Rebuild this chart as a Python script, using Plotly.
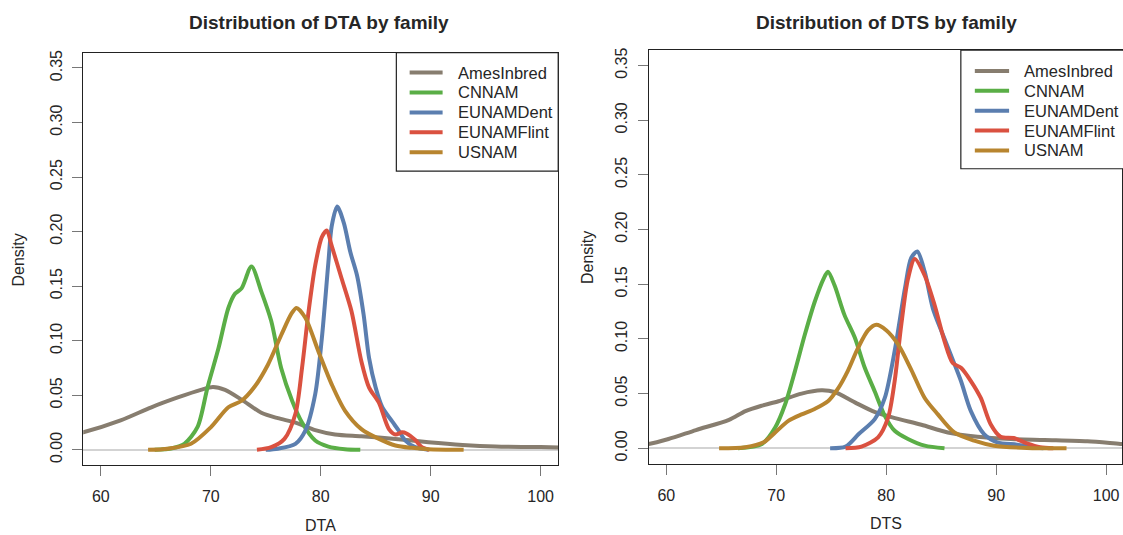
import plotly.graph_objects as go

families = ["AmesInbred", "CNNAM", "EUNAMDent", "EUNAMFlint", "USNAM"]
colors = ["#877D6F", "#5AAE46", "#5B7EAF", "#DA5140", "#B8852F"]

# ---- DTA densities ----
ames_dta_x = [55.0, 58.4, 61.8, 64.6, 67.0, 69.1, 70.2, 71.3, 72.8, 74.6, 76.1, 77.7, 79.5, 81.3, 83.7, 86.8, 89.8, 92.9, 95.9, 100.0, 104.0]
ames_dta_y = [0.008, 0.016, 0.027, 0.039, 0.048, 0.055, 0.0576, 0.055, 0.046, 0.034, 0.029, 0.025, 0.018, 0.014, 0.0124, 0.010, 0.007, 0.0045, 0.003, 0.0025, 0.0015]
cnnam_dta_x = [64.9, 66.5, 67.6, 68.8, 69.7, 70.7, 71.6, 72.2, 72.8, 73.7, 74.6, 75.5, 76.4, 77.4, 78.3, 79.5, 80.7, 82.2, 83.6]
cnnam_dta_y = [0.0, 0.0015, 0.0055, 0.021, 0.057, 0.093, 0.13, 0.143, 0.148, 0.168, 0.145, 0.118, 0.075, 0.045, 0.025, 0.0085, 0.003, 0.0006, 0.0]
dent_dta_x = [75.0, 76.1, 77.7, 78.6, 79.5, 80.1, 80.7, 81.0, 81.5, 82.1, 82.7, 83.3, 83.9, 84.4, 85.0, 85.6, 86.5, 87.1, 87.7, 88.6, 89.8]
dent_dta_y = [0.0, 0.001, 0.0055, 0.0176, 0.051, 0.102, 0.172, 0.205, 0.223, 0.208, 0.181, 0.16, 0.124, 0.084, 0.057, 0.039, 0.026, 0.0176, 0.0085, 0.0024, 0.0]
flint_dta_x = [74.2, 75.5, 76.7, 77.7, 78.3, 78.9, 79.5, 80.1, 80.55, 81.0, 81.9, 82.8, 83.7, 84.4, 85.3, 86.2, 86.8, 87.4, 87.8, 88.6, 89.2, 89.9]
flint_dta_y = [0.0, 0.0024, 0.01, 0.033, 0.075, 0.127, 0.169, 0.195, 0.201, 0.187, 0.157, 0.127, 0.081, 0.057, 0.043, 0.019, 0.014, 0.016, 0.015, 0.009, 0.0024, 0.0]
usnam_dta_x = [64.3, 66.1, 68.2, 70.0, 71.6, 72.8, 74.0, 75.2, 76.4, 77.35, 77.8, 78.6, 79.8, 81.0, 82.2, 83.7, 85.3, 86.8, 88.3, 89.8, 93.0]
usnam_dta_y = [0.0, 0.001, 0.0055, 0.0206, 0.039, 0.045, 0.058, 0.078, 0.105, 0.125, 0.13, 0.121, 0.09, 0.06, 0.036, 0.019, 0.01, 0.004, 0.0018, 0.0006, 0.0]

# ---- DTS densities ----
ames_dts_x = [56.0, 58.4, 60.2, 62.7, 65.7, 67.2, 68.7, 70.2, 72.3, 74.1, 75.3, 77.15, 79.0, 80.8, 83.2, 85.6, 88.3, 91.35, 94.4, 98.3, 101.3, 104.0]
ames_dts_y = [0.002, 0.004, 0.0085, 0.0167, 0.026, 0.034, 0.039, 0.043, 0.05, 0.053, 0.0515, 0.042, 0.033, 0.0276, 0.0215, 0.0145, 0.0106, 0.0085, 0.0076, 0.0064, 0.004, 0.002]
cnnam_dts_x = [66.5, 68.7, 69.9, 70.8, 71.7, 72.6, 73.5, 74.3, 74.7, 75.3, 76.2, 77.15, 78.05, 78.96, 79.87, 80.77, 81.98, 83.5, 85.3]
cnnam_dts_y = [0.0, 0.004, 0.019, 0.04, 0.0706, 0.104, 0.134, 0.155, 0.1615, 0.149, 0.122, 0.101, 0.0736, 0.052, 0.0297, 0.016, 0.0085, 0.0024, 0.0]
dent_dts_x = [74.9, 76.3, 77.5, 78.96, 79.87, 80.77, 81.7, 82.27, 82.83, 83.5, 84.24, 85.15, 86.05, 86.8, 87.7, 88.9, 90.1, 91.9, 93.4, 94.3]
dent_dts_y = [0.0, 0.0015, 0.013, 0.0267, 0.046, 0.089, 0.146, 0.174, 0.18, 0.1615, 0.128, 0.104, 0.081, 0.0615, 0.034, 0.013, 0.0055, 0.0033, 0.001, 0.0]
flint_dts_x = [76.3, 77.75, 79.26, 80.17, 80.77, 81.37, 81.98, 82.6, 83.5, 84.4, 85.3, 86.05, 86.8, 87.7, 88.6, 89.5, 90.4, 91.6, 92.8, 94.0, 95.2]
flint_dts_y = [0.0, 0.0015, 0.01, 0.028, 0.0615, 0.113, 0.155, 0.173, 0.158, 0.131, 0.098, 0.078, 0.0736, 0.0615, 0.046, 0.022, 0.0106, 0.0094, 0.0045, 0.001, 0.0]
usnam_dts_x = [64.8, 67.2, 68.85, 69.9, 71.1, 72.3, 73.5, 74.7, 75.64, 76.5, 77.45, 78.36, 79.1, 80.0, 81.08, 82.27, 83.5, 84.7, 86.2, 88.0, 89.8, 92.8, 96.4]
usnam_dts_y = [0.0, 0.001, 0.0055, 0.0145, 0.025, 0.031, 0.036, 0.043, 0.055, 0.0706, 0.092, 0.108, 0.113, 0.108, 0.095, 0.072, 0.046, 0.031, 0.0145, 0.007, 0.0024, 0.0003, 0.0]

x_ticks = [60, 70, 80, 90, 100]
y_ticks = [0.00, 0.05, 0.10, 0.15, 0.20, 0.25, 0.30, 0.35]
y_ticktext = ["0.00", "0.05", "0.10", "0.15", "0.20", "0.25", "0.30", "0.35"]

dta = [(ames_dta_x, ames_dta_y), (cnnam_dta_x, cnnam_dta_y), (dent_dta_x, dent_dta_y),
       (flint_dta_x, flint_dta_y), (usnam_dta_x, usnam_dta_y)]
dts = [(ames_dts_x, ames_dts_y), (cnnam_dts_x, cnnam_dts_y), (dent_dts_x, dent_dts_y),
       (flint_dts_x, flint_dts_y), (usnam_dts_x, usnam_dts_y)]

FONT = "Liberation Sans, Arial, Helvetica, sans-serif"
TXT = "#262626"

# page geometry (body margin is reset to 0 in the page, so the figure fills the window)
W, H = 1123, 535


def fx(px):
    return px / W


def fy(py):
    return (H - py) / H


fig = go.Figure()
for (xs, ys), name, col in zip(dta, families, colors):
    fig.add_trace(go.Scatter(x=xs, y=ys, mode="lines", name=name,
                             line=dict(color=col, width=4, shape="spline", smoothing=0.8),
                             xaxis="x", yaxis="y", showlegend=False))
for (xs, ys), name, col in zip(dts, families, colors):
    fig.add_trace(go.Scatter(x=xs, y=ys, mode="lines", name=name,
                             line=dict(color=col, width=4, shape="spline", smoothing=0.8),
                             xaxis="x2", yaxis="y2", showlegend=False))

axis_common = dict(showline=True, mirror=True, linecolor="#222222", linewidth=1.3,
                   ticks="outside", ticklen=10, tickwidth=1.3, tickcolor="#777777",
                   showgrid=False, tickfont=dict(family=FONT, size=16, color=TXT))

xr = [58.4, 101.6]
yr = [-0.014, 0.364]
px_per_unit = (558.7 - 83.3) / (xr[1] - xr[0])

fig.update_layout(
    width=W, height=H,
    margin=dict(l=0, r=0, t=0, b=0),
    paper_bgcolor="white", plot_bgcolor="white",
    font=dict(family=FONT, color=TXT),
    showlegend=False,
    xaxis=dict(domain=[fx(83.3), fx(558.7)], range=xr, tickvals=x_ticks, anchor="y",
               ticklabelstandoff=7, **axis_common),
    yaxis=dict(domain=[fy(464.7), fy(50)], range=yr, tickvals=y_ticks, ticktext=y_ticktext,
               tickangle=-90, anchor="x", zeroline=True, zerolinecolor="#D3D3D3", zerolinewidth=2,
               ticklabelstandoff=4, **axis_common),
    xaxis2=dict(domain=[fx(649.3), 1.0], range=[xr[0], xr[0] + (W - 649.3) / px_per_unit],
                tickvals=x_ticks, anchor="y2", ticklabelstandoff=7, **axis_common),
    yaxis2=dict(domain=[fy(463.2), fy(47.5)], range=yr, tickvals=y_ticks, ticktext=y_ticktext,
                tickangle=-90, anchor="x2", zeroline=True, zerolinecolor="#D3D3D3", zerolinewidth=2,
                ticklabelstandoff=4, **axis_common),
)

annotations = [
    dict(text="<b>Distribution of DTA by family</b>", x=fx(319), y=fy(20)),
    dict(text="<b>Distribution of DTS by family</b>", x=fx(887), y=fy(20)),
]
for a in annotations:
    a.update(xref="paper", yref="paper", showarrow=False, xanchor="center", yanchor="middle",
             font=dict(size=19, color=TXT, family=FONT))
axis_titles = [
    dict(text="DTA", x=fx(321), y=fy(525)),
    dict(text="DTS", x=fx(887), y=fy(523)),
    dict(text="Density", x=fx(19), y=fy(258), textangle=-90),
    dict(text="Density", x=fx(588), y=fy(256), textangle=-90),
]
for a in axis_titles:
    a.update(xref="paper", yref="paper", showarrow=False, xanchor="center", yanchor="middle",
             font=dict(size=16, color=TXT, family=FONT))
annotations += axis_titles

# legends (one per panel), drawn in page pixels
shapes = []
legend_boxes = [
    dict(x0=396.7, x1=558.7, y0=50, y1=169, row0=70, line_x0=410, line_x1=443, text_x=456),
    dict(x0=961.7, x1=1124.7, y0=47.5, y1=166.7, row0=68.3, line_x0=975.7, line_x1=1010, text_x=1023.3),
]
for lb in legend_boxes:
    shapes.append(dict(type="rect", xref="paper", yref="paper",
                       x0=fx(lb["x0"]), x1=fx(lb["x1"]), y0=fy(lb["y1"]), y1=fy(lb["y0"]),
                       line=dict(color="#222222", width=1.2), fillcolor="white", layer="above"))
    for i, (name, col) in enumerate(zip(families, colors)):
        ry = lb["row0"] + 20 * i
        shapes.append(dict(type="line", xref="paper", yref="paper",
                           x0=fx(lb["line_x0"]), x1=fx(lb["line_x1"]), y0=fy(ry), y1=fy(ry),
                           line=dict(color=col, width=4), layer="above"))
        annotations.append(dict(text=name, x=fx(lb["text_x"]), y=fy(ry), xref="paper", yref="paper",
                                showarrow=False, xanchor="left", yanchor="middle",
                                font=dict(size=16.5, color=TXT, family=FONT)))

fig.update_layout(annotations=annotations, shapes=shapes)

fig.write_html("out.html", config={"displayModeBar": False},
               post_script="document.body.style.margin='0';document.body.style.overflow='hidden';")
